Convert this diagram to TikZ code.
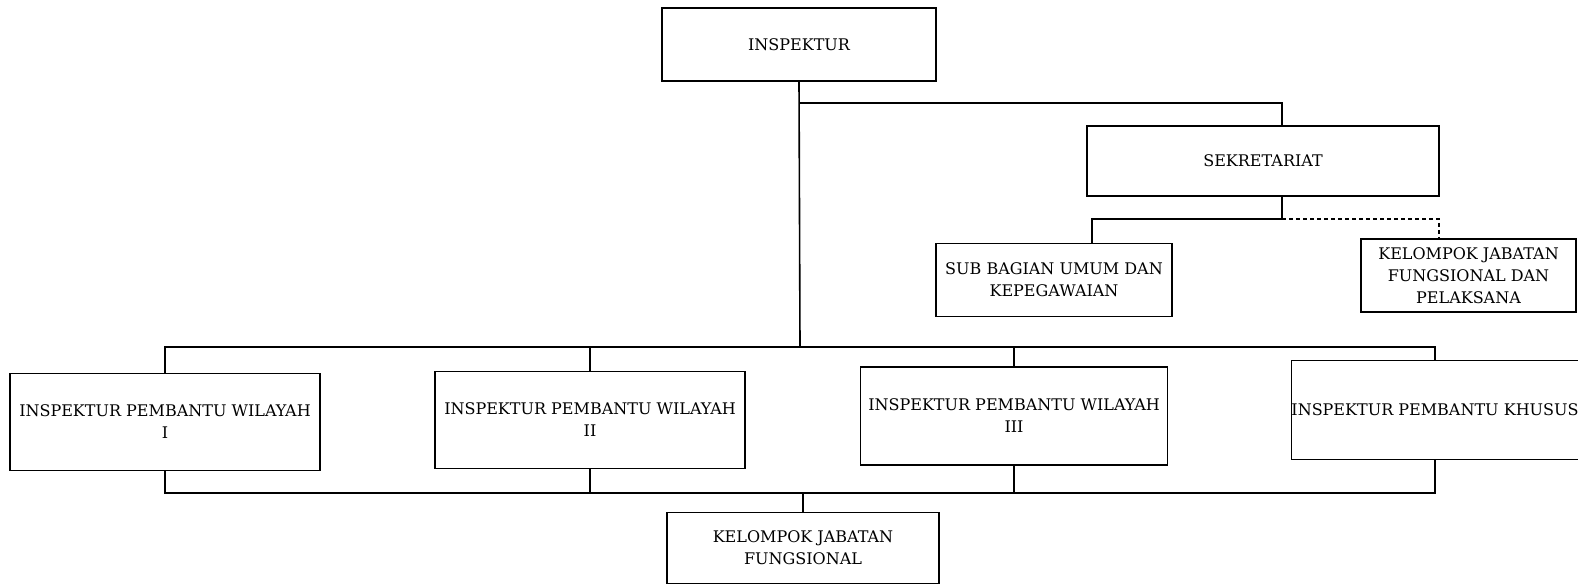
\documentclass[tikz,border=0pt]{standalone}
\usepackage{fontspec}
\setmainfont{DejaVu Serif}
\usetikzlibrary{calc}

\begin{document}
\begin{tikzpicture}[x=0.5pt, y=-0.5pt,
    unit/.style={rectangle, draw=black, line width=0.9pt, fill=white, inner sep=0pt, align=center, font=\fontsize{8}{11}\selectfont},
    link/.style={draw=black, line width=0.8pt},
    linkdash/.style={link, dash pattern=on 2pt off 1.5pt}
]
    \useasboundingbox (0,0) rectangle (1578,587);

    % Top - Inspektur and Sekretariat
    \node[unit, minimum width=137pt, minimum height=36.5pt] (insp) at (799,44.5) {INSPEKTUR};
    \node[unit, minimum width=176pt, minimum height=35pt] (sekr) at (1263,161) {SEKRETARIAT};
    \node[unit, minimum width=118pt, minimum height=36.5pt] (subum) at (1054,280) {SUB BAGIAN UMUM DAN\\KEPEGAWAIAN};
    \node[unit, minimum width=107.5pt, minimum height=36.5pt] (kjfp) at (1468.5,275.5) {KELOMPOK JABATAN\\FUNGSIONAL DAN\\PELAKSANA};

    % Row 2 - Inspektur Pembantu
    \node[unit, minimum width=155pt, minimum height=48.5pt] (ipw1) at (165,422) {INSPEKTUR PEMBANTU WILAYAH\\I};
    \node[unit, minimum width=155pt, minimum height=48.5pt] (ipw2) at (590,420) {INSPEKTUR PEMBANTU WILAYAH\\II};
    \node[unit, minimum width=153.5pt, minimum height=49pt] (ipw3) at (1014,416) {INSPEKTUR PEMBANTU WILAYAH\\III};
    \node[unit, minimum width=142.5pt, minimum height=49.5pt] (ipk) at (1435,410) {INSPEKTUR PEMBANTU KHUSUS};

    % Row 3 - Kelompok Jabatan Fungsional
    \node[unit, minimum width=136pt, minimum height=35.5pt] (kjf) at (803,548) {KELOMPOK JABATAN\\FUNGSIONAL};

    % bus levels
    \coordinate (split) at (800,103);
    \coordinate (busup) at (800,347);
    \coordinate (buslow) at (800,493);
    \coordinate (subbus) at (1282,219);
    \coordinate (sekx) at (1282,0);
    \coordinate (subx) at (1092,0);
    \coordinate (kjfpx) at (1439,0);

    % connectors
    \draw[link] (insp.south) -- (busup);
    \draw[link] (split) -| (sekx |- sekr.north);
    \draw[link] (sekx |- sekr.south) -- (subbus) -| (subx |- subum.north);
    \draw[linkdash] (subbus) -| (kjfpx |- kjfp.north);
    \draw[link] (ipw1.north) -- (ipw1.north |- busup) -- (ipk.north |- busup) -- (ipk.north);
    \draw[link] (ipw1.south) -- (ipw1.south |- buslow) -- (ipk.south |- buslow) -- (ipk.south);
    \foreach \n in {ipw2, ipw3} {
        \draw[link] (\n.north) -- (\n.north |- busup);
        \draw[link] (\n.south) -- (\n.south |- buslow);
    }
    \draw[link] (kjf.north |- buslow) -- (kjf.north);
\end{tikzpicture}
\end{document}
